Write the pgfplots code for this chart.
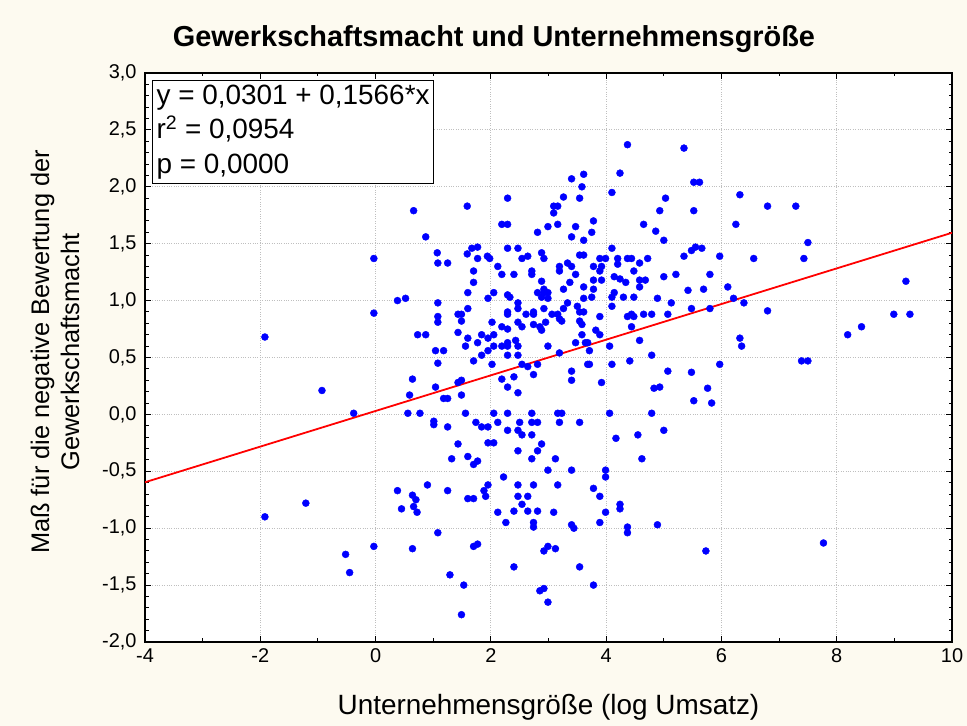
\documentclass[border=0pt]{standalone}
\usepackage{pgfplots}
\pgfplotsset{compat=1.18}
\usepackage{fontspec}
\setmainfont{Liberation Sans}
\definecolor{bgcream}{RGB}{253,250,240}
\definecolor{ptblue}{RGB}{0,0,255}
\begin{document}
\begin{tikzpicture}[x=1bp,y=1bp]
\fill[bgcream] (0,0) rectangle (967,726);
\node[font=\bfseries\fontsize{29}{33}\selectfont] at (494,687) {Gewerkschaftsmacht und Unternehmensgröße};
\begin{axis}[
  at={(145bp,84bp)}, anchor=south west, scale only axis,
  width=807bp, height=569bp,
  xmin=-4, xmax=10, ymin=-2, ymax=3,
  xtick={-4,-2,0,2,4,6,8,10}, minor x tick num=1,
  ytick={-2,-1.5,-1,-0.5,0,0.5,1,1.5,2,2.5,3}, minor y tick num=4,
  axis background/.style={fill=white},
  axis line style={line width=1.6bp, black},
  tick style={black, line width=1bp},
  major tick length=6bp, minor tick length=3.5bp,
  grid=major, major grid style={dotted, gray!50, line width=0.8bp},
  /pgf/number format/assume math mode=true,
  tick label style={font=\fontsize{20}{24}\selectfont},
  xticklabel style={yshift=-3bp, /pgf/number format/fixed, /pgf/number format/precision=0},
  yticklabel style={xshift=-5bp, /pgf/number format/fixed, /pgf/number format/fixed zerofill, /pgf/number format/precision=1, /pgf/number format/use comma},
  xlabel={Unternehmensgröße (log Umsatz)},
  xlabel style={at={(axis description cs:0.5,-0.1140)}, anchor=center, font=\fontsize{28}{32}\selectfont},
  ylabel={Maß für die negative Bewertung der\\Gewerkschaftsmacht},
  ylabel style={at={(axis description cs:-0.1115,0.5097)}, anchor=center, align=center, font=\fontsize{25.5}{30}\selectfont},
  clip=true,
]
\addplot[only marks, mark=*, mark size=3.5bp, ptblue, mark options={draw=ptblue, fill=ptblue}] table {
x y
-1.92 0.68
-1.92 -0.90
-1.21 -0.78
-0.93 0.21
-0.38 0.01
-0.03 0.89
-0.03 1.37
0.38 1.00
0.52 1.02
0.64 0.31
0.59 0.17
0.56 0.01
0.66 1.79
-0.52 -1.23
-0.45 -1.39
-0.03 -1.16
0.38 -0.67
0.45 -0.83
0.64 -0.71
0.70 -0.75
0.66 -0.81
0.72 -0.86
0.64 -1.18
0.87 1.56
1.07 1.42
1.59 1.83
1.59 1.41
1.67 1.46
1.77 1.47
1.77 1.37
1.94 1.39
1.98 1.37
2.29 1.90
2.19 1.67
2.29 1.67
2.29 1.46
2.47 1.46
2.54 1.37
2.64 1.39
2.81 1.60
2.88 1.42
2.92 1.37
2.99 1.65
3.09 1.83
3.16 1.83
3.09 1.77
3.16 1.67
3.26 1.91
3.40 2.07
3.61 2.11
3.58 2.00
3.54 1.90
3.47 1.65
3.40 1.56
3.61 1.53
3.75 1.60
3.78 1.70
3.54 1.40
3.61 1.40
3.33 1.33
3.89 1.37
3.99 1.37
4.10 1.46
4.10 1.95
4.24 2.12
4.37 2.37
4.20 1.37
4.37 1.37
4.44 1.37
4.58 1.33
4.65 1.67
4.72 1.37
4.86 1.61
4.93 1.79
5.03 1.90
5.00 1.53
5.35 2.34
5.35 1.39
1.08 1.33
1.25 1.33
5.52 2.04
5.62 2.04
5.52 1.79
6.32 1.93
6.80 1.83
7.29 1.83
6.25 1.67
7.50 1.51
5.55 1.47
5.48 1.44
5.66 1.46
5.97 1.39
6.56 1.37
7.43 1.37
5.42 1.09
5.80 1.23
5.69 1.10
6.11 1.12
6.21 1.02
6.39 0.98
5.48 0.93
5.80 0.93
6.80 0.91
6.32 0.67
6.35 0.60
5.48 0.37
5.97 0.44
5.76 0.23
5.52 0.12
5.83 0.10
7.39 0.47
7.50 0.47
8.19 0.70
8.43 0.77
8.99 0.88
9.27 0.88
9.20 1.17
5.73 -1.20
7.77 -1.13
1.32 -0.39
1.60 -0.37
1.70 -0.44
1.77 -0.41
2.71 -0.39
3.12 -0.39
4.62 -0.39
2.99 -0.49
3.40 -0.49
3.99 -0.49
3.99 -0.55
2.22 -0.55
0.90 -0.62
1.25 -0.67
1.95 -0.62
1.88 -0.67
1.91 -0.72
1.60 -0.74
1.70 -0.74
2.47 -0.62
2.74 -0.62
3.16 -0.62
2.47 -0.72
2.64 -0.72
2.54 -0.79
2.40 -0.85
2.64 -0.85
2.81 -0.85
2.12 -0.86
3.09 -0.86
2.26 -0.95
2.74 -0.95
2.74 -0.99
3.40 -0.97
3.44 -1.00
3.78 -0.65
3.89 -0.72
3.99 -0.86
3.89 -0.95
4.24 -0.79
4.24 -0.83
4.37 -0.99
4.37 -1.04
4.89 -0.97
1.08 -1.04
1.70 -1.16
1.77 -1.14
2.92 -1.20
2.99 -1.16
3.12 -1.18
2.40 -1.34
3.54 -1.34
1.29 -1.41
1.53 -1.50
3.78 -1.50
2.85 -1.55
2.92 -1.53
2.99 -1.65
1.49 -1.76
1.70 1.26
2.12 1.30
2.19 1.23
2.40 1.23
2.71 1.26
2.71 1.23
3.19 1.30
3.19 1.26
3.40 1.30
3.47 1.23
3.78 1.30
3.92 1.30
3.89 1.26
4.20 1.32
4.48 1.26
1.70 1.16
1.60 1.07
1.95 1.02
2.05 1.07
2.29 1.05
2.33 1.03
2.88 1.17
2.92 1.10
2.81 1.07
2.92 1.07
2.99 1.07
2.88 1.03
2.99 1.02
3.26 1.10
3.37 1.16
3.61 1.12
3.78 1.18
3.78 1.10
3.92 1.18
3.75 1.03
3.61 1.02
4.14 1.21
4.24 1.19
4.34 1.16
4.58 1.18
4.68 1.18
4.58 1.12
5.00 1.21
5.21 1.23
4.14 1.07
4.10 1.03
4.30 1.03
4.48 1.03
4.89 1.02
5.13 0.98
1.08 0.98
1.08 0.86
1.08 0.81
1.43 0.88
1.49 0.88
1.49 0.82
1.60 0.93
2.02 0.81
2.29 0.90
2.29 0.88
2.47 0.98
2.47 0.93
2.61 0.88
2.74 0.90
2.74 0.88
2.92 0.93
3.06 0.88
3.16 0.88
3.19 0.84
3.23 0.82
3.26 0.93
3.33 0.98
3.50 0.95
3.54 0.90
3.61 0.90
3.54 0.82
3.58 0.79
3.89 0.86
4.10 0.95
4.37 0.86
4.44 0.88
4.48 0.86
4.65 0.88
4.79 0.88
5.07 0.88
4.44 0.77
0.73 0.70
0.87 0.70
1.43 0.72
1.60 0.67
1.84 0.70
1.77 0.63
1.95 0.67
2.05 0.70
2.19 0.77
2.29 0.75
2.47 0.81
2.54 0.77
2.74 0.79
2.85 0.77
2.88 0.74
2.95 0.81
3.58 0.70
3.82 0.74
3.89 0.70
4.58 0.65
1.04 0.56
1.18 0.56
1.56 0.60
1.95 0.56
2.05 0.60
2.19 0.60
2.29 0.63
2.29 0.60
2.29 0.52
2.43 0.65
2.47 0.60
2.47 0.52
1.84 0.52
1.70 0.47
1.08 0.45
2.02 0.44
2.54 0.44
2.64 0.42
2.81 0.44
2.99 0.60
3.47 0.63
3.64 0.63
3.68 0.63
3.71 0.56
3.19 0.54
3.68 0.44
3.71 0.44
4.06 0.60
4.10 0.44
4.41 0.47
4.79 0.52
5.07 0.38
3.40 0.38
3.40 0.30
3.92 0.28
4.83 0.23
4.93 0.24
2.74 0.35
2.19 0.31
2.40 0.33
2.29 0.24
2.47 0.19
1.43 0.28
1.49 0.30
1.04 0.24
1.18 0.14
1.25 0.14
1.49 0.17
0.77 0.01
1.56 0.01
2.05 0.01
2.29 0.01
2.71 0.01
3.16 0.01
3.23 0.01
4.06 0.01
4.79 0.01
1.01 -0.06
1.01 -0.09
1.25 -0.11
1.74 -0.07
1.84 -0.11
1.95 -0.11
2.12 -0.07
2.29 -0.14
2.47 -0.14
2.54 -0.18
2.50 -0.07
2.71 -0.07
2.81 -0.07
2.71 -0.18
3.19 -0.07
3.54 -0.07
1.43 -0.26
1.95 -0.25
2.05 -0.25
2.47 -0.32
2.88 -0.26
2.81 -0.32
4.17 -0.21
4.55 -0.18
5.00 -0.14
};
\addplot[red, line width=1.8bp] coordinates {(-4,-0.5963) (10,1.5961)};
\node[draw=black, line width=1.2bp, fill=white, anchor=north west, align=left, inner sep=4bp, font=\fontsize{28}{35}\selectfont] at (rel axis cs:0.0087,0.9877) {y = 0,0301 + 0,1566*x\\r\textsuperscript{2} = 0,0954\\p = 0,0000};
\end{axis}
\end{tikzpicture}
\end{document}
